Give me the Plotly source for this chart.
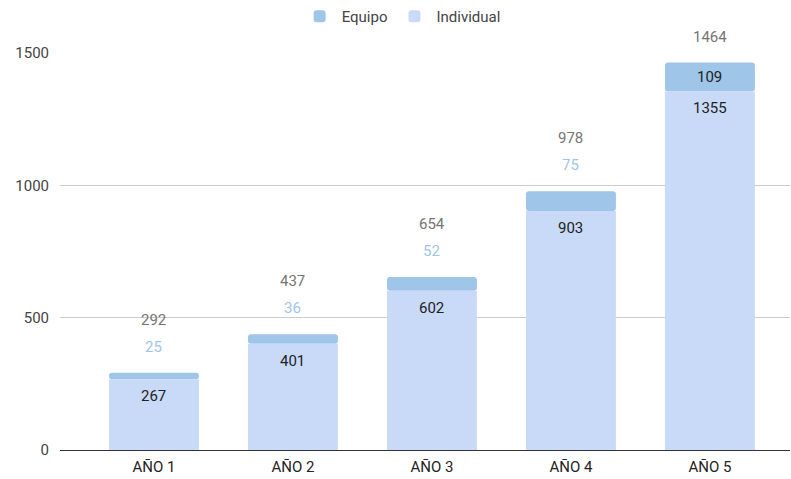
import plotly.graph_objects as go

categories = ["AÑO 1", "AÑO 2", "AÑO 3", "AÑO 4", "AÑO 5"]
individual = [267, 401, 602, 903, 1355]
equipo = [25, 36, 52, 75, 109]
totals = [i + e for i, e in zip(individual, equipo)]

C_EQ = "#9fc5e8"
C_IND = "#c9daf8"
FONT = "Roboto"
FS = 15

fig = go.Figure()
fig.add_trace(go.Bar(name="Equipo", x=categories, y=equipo, base=individual,
                     marker=dict(color=C_EQ, line=dict(width=0)), width=0.647,
                     hoverinfo="skip"))
fig.add_trace(go.Bar(name="Individual", x=categories, y=individual,
                     marker=dict(color=C_IND, line=dict(width=0)), width=0.647,
                     hoverinfo="skip"))

ann = []
for i, c in enumerate(categories):
    tot = dict(x=c, y=totals[i], text=str(totals[i]), showarrow=False,
               yshift=26, font=dict(family=FONT, size=FS, color="#757575"))
    ann.append(tot)
    if equipo[i] >= 100:
        ann.append(dict(x=c, y=individual[i] + equipo[i] / 2, text=str(equipo[i]), showarrow=False,
                        font=dict(family=FONT, size=FS, color="#222222")))
    else:
        tot["yshift"] = 53
        ann.append(dict(x=c, y=totals[i], text=str(equipo[i]), showarrow=False,
                        yshift=26, font=dict(family=FONT, size=FS, color=C_EQ)))
    ann.append(dict(x=c, y=individual[i], text=str(individual[i]), showarrow=False,
                    yshift=-17, font=dict(family=FONT, size=FS, color="#222222")))

fig.update_layout(
    width=791, height=479,
    margin=dict(l=60, r=1, t=53, b=29),
    paper_bgcolor="white", plot_bgcolor="white",
    barmode="overlay",
    barcornerradius=3,
    font=dict(family=FONT, size=FS, color="#444444"),
    showlegend=True,
    legend=dict(orientation="h", x=0.468, xanchor="center", y=1.0, yref="container",
                yanchor="top", font=dict(family=FONT, size=FS, color="#444444"),
                traceorder="normal", itemwidth=34),
    annotations=ann,
    xaxis=dict(range=[-0.676, 4.576], showgrid=False, ticks="", showline=False,
               ticklabelstandoff=6,
               tickfont=dict(family=FONT, size=FS, color="#222222")),
    yaxis=dict(range=[0, 1500], tickvals=[0, 500, 1000, 1500], showgrid=True,
               gridcolor="#cccccc", gridwidth=1, zeroline=True, zerolinecolor="#333333",
               zerolinewidth=1, ticks="", ticklabelstandoff=10,
               tickfont=dict(family=FONT, size=FS, color="#444444")),
)
fig.write_html("out.html")
